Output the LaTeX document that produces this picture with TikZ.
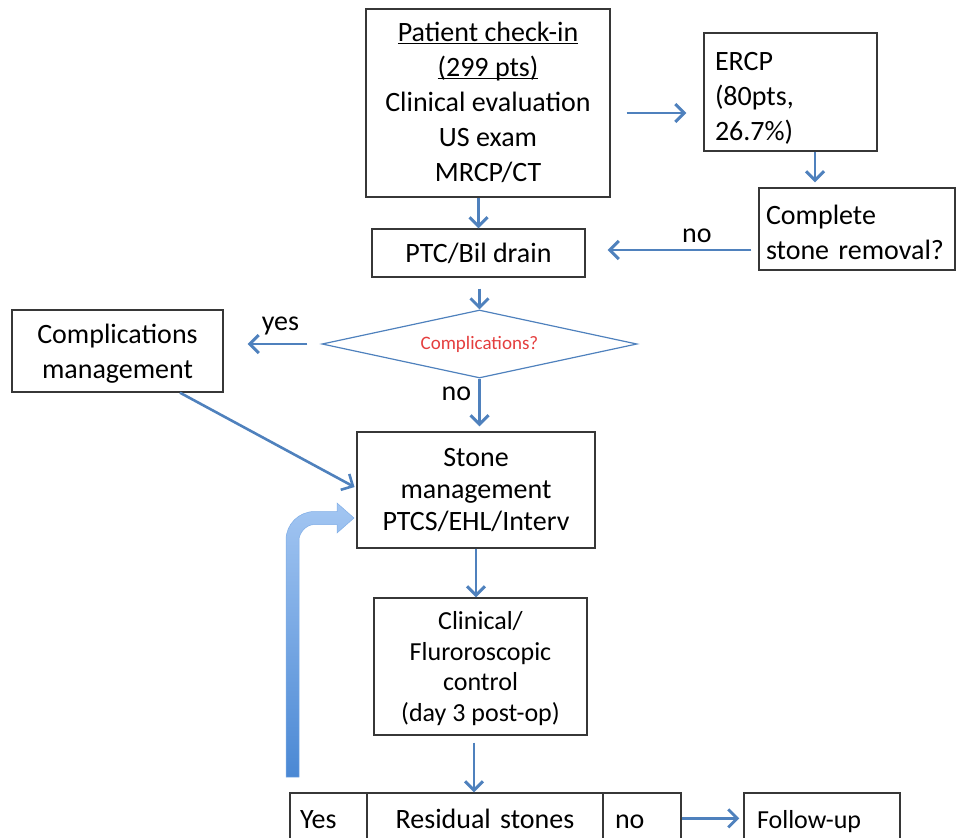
\documentclass[tikz,border=0pt]{standalone}
\usepackage{fontspec}
\setmainfont{Carlito}
\usetikzlibrary{arrows.meta,shapes.geometric}
\definecolor{connc}{RGB}{79,129,189}
\definecolor{edgec}{RGB}{55,55,55}
\definecolor{qred}{RGB}{228,62,62}
\definecolor{barlight}{RGB}{163,198,242}
\definecolor{bardark}{RGB}{74,136,212}
\newcommand\ulx[1]{\underline{\smash{#1}}\vphantom{Pg}}
\begin{document}
\begin{tikzpicture}[x=1pt,y=-1pt,
  box/.style={draw=edgec, line width=1.4pt, inner sep=0pt, align=center,
    font=\fontsize{28}{35}\selectfont},
  cell/.style={draw=edgec, line width=1.4pt, inner xsep=0pt, inner ysep=15pt,
    text height=20pt, text depth=30pt, minimum height=80pt,
    font=\fontsize{28}{34}\selectfont},
  conn/.style={draw=connc, line width=2.9pt, -{Straight Barb[length=9pt,width=18pt]}},
  lab/.style={font=\fontsize{28}{34}\selectfont, inner sep=0pt, anchor=base}]
\useasboundingbox (0,0) rectangle (956,838);
\clip (0,0) rectangle (956,838);

% boxes
\node[box, minimum width=244pt, minimum height=188pt, text depth=0pt] (top) at (488,103)
  {\ulx{Patient check-in}\\\ulx{(299 pts)}\\Clinical evaluation\\US exam\\MRCP/CT};
\node[box, minimum width=173pt, minimum height=118pt, text width=151pt, align=left, text height=30pt] (ercp) at (790.5,92)
  {ERCP\\(80pts,\\26.7\%)};
\node[box, minimum width=196pt, minimum height=82pt, text width=182pt, align=left, text height=26pt] (cmp) at (857,229)
  {Complete\\stone removal?};
\node[box, minimum width=213pt, minimum height=48pt] (ptc) at (478.5,253) {PTC/Bil drain};
\node[draw=connc, line width=1.2pt, shape=diamond, aspect=4.63, inner sep=0pt,
  minimum width=315pt, minimum height=68pt, text=qred,
  font=\fontsize{19}{22}\selectfont] (dia) at (479.5,344) {Complications?};
\node[box, minimum width=211pt, minimum height=82pt, text depth=0pt] (cm) at (117.5,351)
  {Complications\\management};
\node[box, minimum width=238pt, minimum height=116pt, font=\fontsize{28}{32}\selectfont] (stone) at (476,490)
  {Stone\\management\\PTCS/EHL/Interv};
\node[box, minimum width=213pt, minimum height=137pt, text depth=0pt, font=\fontsize{26}{30.5}\selectfont] (clin) at (480.5,666.5)
  {Clinical/\\Fluroroscopic\\control\\(day 3 post-op)};

% bottom row
\node[cell, minimum width=77pt, text width=57pt, align=left] (yesc) at (328.5,833) {Yes};
\node[cell, minimum width=236pt, text width=216pt, align=center] (res) at (485,833) {Residual stones};
\node[cell, minimum width=78pt, text width=54pt, align=left] (noc) at (642,833) {no};
\node[cell, minimum width=156pt, text width=130pt, align=left, font=\fontsize{26}{30}\selectfont] (fu) at (822,833) {Follow-up};

% connectors
\coordinate (te) at ([yshift=-10pt]top.east);
\draw[conn, shorten <=16pt, shorten >=17pt] (te) -- (te -| ercp.west);
\coordinate (ec) at ([xshift=24.5pt]ercp.south);
\draw[conn, shorten >=5pt] (ec) -- (ec |- cmp.north);
\coordinate (nos) at ([yshift=-21pt]cmp.west);
\draw[conn, shorten <=7pt, shorten >=22pt] (nos) -- node[lab, pos=0.356, yshift=8pt] {no} (nos -| ptc.east);
\draw[conn] (ptc.north |- top.south) -- (ptc.north);
\draw[conn, shorten <=11pt] (dia.north |- ptc.south) -- (dia.north);
\draw[conn, shorten <=14pt, shorten >=24pt] (dia.west) -- node[lab, pos=0.42, yshift=14pt] {yes} (dia.west -| cm.east);
\draw[conn, shorten >=5pt] (dia.south) -- node[lab, pos=0.41, anchor=base east, xshift=-7pt] {no} (dia.south |- stone.north);
\draw[conn, line width=2.6pt, shorten >=2pt] ([xshift=62.5pt]cm.south) -- ([yshift=2pt]stone.west);
\draw[conn] (stone.south) -- (stone.south |- clin.north);
\coordinate (cs) at ([xshift=-6.5pt]clin.south);
\draw[conn, shorten <=7pt] (cs) -- (cs |- res.north);
\coordinate (nf) at ([yshift=-26pt]noc.north east);
\draw[conn, shorten >=4pt] (nf) -- (nf -| fu.west);

% thick return arrow
\shadedraw[top color=barlight, bottom color=bardark, draw=barlight!60!bardark, line width=0.5pt]
  (286,777) -- (286,540) .. controls (286,524.26) and (298.76,511.5) .. (314.5,511.5)
  -- (337,511.5) -- (337,503) -- (354,518) -- (337,533) -- (337,524.5) -- (314.5,524.5)
  .. controls (305.94,524.5) and (299,533.06) .. (299,540) -- (299,777) -- cycle;
\end{tikzpicture}
\end{document}
